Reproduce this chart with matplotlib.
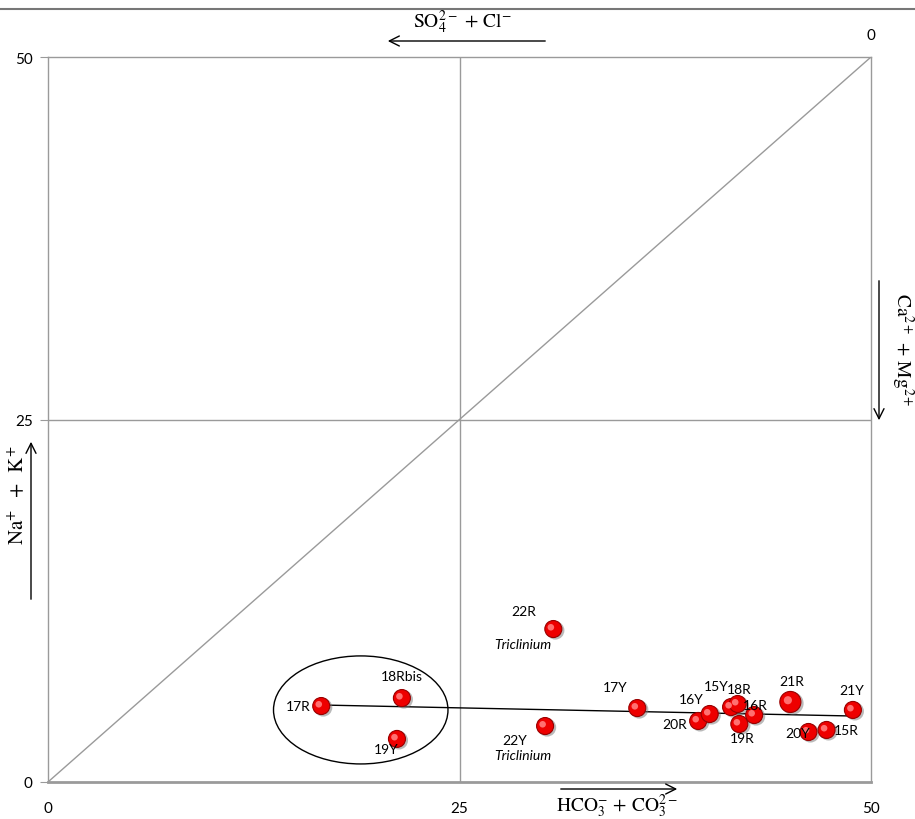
import numpy as np
import matplotlib
matplotlib.use('Agg')
import matplotlib.pyplot as plt
from matplotlib.patches import Ellipse

plt.rcParams['mathtext.fontset'] = 'stix'

# sample positions (meq %)
names = ['17R', '18Rbis', '19Y', '22R', '22Y', '17Y', '20R', '16Y', '15Y',
         '18R', '16R', '19R', '21R', '20Y', '15R', '21Y']
hco3 = [16.6, 21.5, 21.2, 30.7, 30.2, 35.8, 39.5, 40.2, 41.5,
        41.9, 42.9, 42.0, 45.1, 46.2, 47.3, 48.9]
nak = [5.24, 5.79, 2.97, 10.55, 3.86, 5.10, 4.21, 4.69, 5.17,
       5.38, 4.62, 4.00, 5.52, 3.45, 3.59, 4.97]
big = ['21R']
triclinium = ['22R', '22Y']

trend_x = [16.6, 48.9]
trend_y = [5.31, 4.55]

# label offsets in points (dx, dy)
offsets = {
    '17R': (-8, 0, 'right'), '18Rbis': (0, 16, 'center'), '19Y': (-8, -7, 'center'),
    '22R': (-21, 13, 'center'), '22Y': (-22, -10, 'center'), '17Y': (-16, 15, 'center'),
    '20R': (-17, -2, 'center'), '16Y': (-13, 11, 'center'), '15Y': (-11, 15, 'center'),
    '18R': (1, 11, 'center'), '16R': (1, 7, 'center'), '19R': (2, -10, 'center'),
    '21R': (1, 15, 'center'), '20Y': (-8, -1, 'center'), '15R': (14, 0, 'center'),
    '21Y': (-1, 14, 'center'),
}
tric_off = {'22R': (-22, -11), '22Y': (-16, -21)}

fig = plt.figure(figsize=(9.15, 8.2), dpi=100)
ax = fig.add_axes([48 / 915, 37 / 820, 823 / 915, 725 / 820])
ax.set_xlim(0, 50)
ax.set_ylim(0, 50)

gc = '#9a9a9a'
ax.axvline(25, color=gc, lw=1)
ax.axhline(25, color=gc, lw=1)
ax.plot([0, 50], [0, 50], color=gc, lw=1)
for s in ['left', 'right', 'top']:
    ax.spines[s].set_color(gc)
    ax.spines[s].set_linewidth(1)
ax.spines['bottom'].set_color(gc)
ax.spines['bottom'].set_linewidth(2)

ax.set_xticks([0, 25, 50])
ax.set_yticks([0, 25, 50])
ax.tick_params(axis='x', length=0, pad=14, labelsize=11)
ax.tick_params(axis='y', length=6, color=gc, pad=5, labelsize=11)
for lb in ax.get_xticklabels() + ax.get_yticklabels():
    lb.set_family('Lato')
ax.text(50, 51.5, '0', ha='center', va='center', fontsize=11,
        family='Lato', clip_on=False)

ax.plot(trend_x, trend_y, color='black', lw=1, zorder=3)
ax.add_patch(Ellipse((19.0, 4.97), 10.6, 7.45, fill=False, ec='black', lw=1, zorder=3))

x = np.array(hco3)
y = np.array(nak)
sizes = np.array([230 if n in big else 150 for n in names])
ax.scatter(x + 0.12, y - 0.1, s=sizes * 1.15, color='#777777', alpha=0.5, lw=0, zorder=4)
ax.scatter(x, y, s=sizes, color='#ee0000', edgecolor='#990000', lw=0.8, zorder=5)
ax.scatter(x - 0.15, y + 0.12, s=sizes * 0.15, color='#ff7070', lw=0, zorder=6)

for n, xi, yi in zip(names, hco3, nak):
    dx, dy, ha = offsets[n]
    ax.annotate(n, (xi, yi), xytext=(dx, dy), textcoords='offset points',
                ha=ha, va='center', fontsize=10, family='Lato', zorder=7)
    if n in triclinium:
        tx, ty = tric_off[n]
        ax.annotate('Triclinium', (xi, yi), xytext=(tx, ty), textcoords='offset points',
                    ha='center', va='center', fontsize=10, style='italic',
                    family='Lato', zorder=7)


def fp(px, py):
    return (px / 915, 1 - py / 820)


arrow = dict(arrowstyle='->', color='black', lw=1, mutation_scale=18)
fig.add_artist(plt.Line2D([0, 1], [1 - 10 / 820] * 2, color='#777777', lw=1.5))
ax.annotate('', xy=fp(385, 42), xytext=fp(548, 42), xycoords='figure fraction',
            arrowprops=arrow)
fig.text(*fp(463, 22), r'$\mathrm{SO_4^{2-}\,+\,Cl^{-}}$', ha='center', va='center', fontsize=14)
ax.annotate('', xy=fp(680, 790), xytext=fp(558, 790), xycoords='figure fraction',
            arrowprops=arrow)
fig.text(*fp(617, 806), r'$\mathrm{HCO_3^{-}\,+\,CO_3^{2-}}$', ha='center', va='center', fontsize=14)
ax.annotate('', xy=fp(31, 440), xytext=fp(31, 603), xycoords='figure fraction',
            arrowprops=arrow)
fig.text(*fp(18, 495), r'$\mathrm{Na^{+}\;\;+\;\;K^{+}}$', ha='center', va='center',
         fontsize=15, rotation=90)
ax.annotate('', xy=fp(879, 424), xytext=fp(879, 279), xycoords='figure fraction',
            arrowprops=arrow)
fig.text(*fp(902, 350), r'$\mathrm{Ca^{2+}\,+\,Mg^{2+}}$', ha='center', va='center',
         fontsize=14, rotation=-90)

fig.savefig('out.png', dpi=100)
